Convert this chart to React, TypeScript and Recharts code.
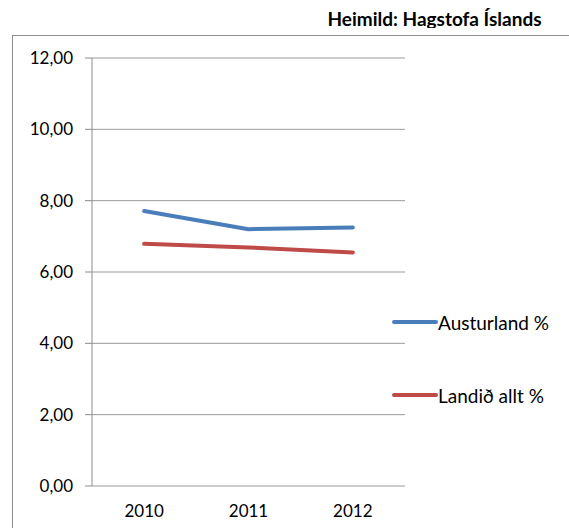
import React from 'react';
import { LineChart, Line, XAxis, YAxis, CartesianGrid } from 'recharts';

const categories = ['2010', '2011', '2012'];
const austurland = [7.71, 7.2, 7.25];
const landid = [6.79, 6.69, 6.55];
const yTicks = [0, 2, 4, 6, 8, 10, 12];
const seriesNames = ['Austurland %', 'Landið allt %'];
const seriesColors = ['#4A7EBB', '#BE4B48'];

const data = categories.map((c, i) => ({
  pos: i + 0.5,
  year: c,
  austurland: austurland[i],
  landid: landid[i],
}));

const boundaryTicks = categories.map((_, i) => i).concat([categories.length]);
const centerTicks = categories.map((_, i) => i + 0.5);

const FONT = 'Lato, "Open Sans", sans-serif';

const LegendBox = () => (
  <div style={{ position: 'absolute', left: 391, top: 312, fontFamily: FONT, fontSize: 19, color: '#000' }}>
    {seriesNames.map((n, i) => (
      <div key={n} style={{ display: 'flex', alignItems: 'center', height: 20, marginBottom: i === 0 ? 53 : 0 }}>
        <svg width={47} height={8} style={{ display: 'block' }}>
          <line x1={3} y1={4} x2={45} y2={4} stroke={seriesColors[i]} strokeWidth={4} strokeLinecap="round" />
        </svg>
        <span style={{ whiteSpace: 'nowrap' }}>{n}</span>
      </div>
    ))}
  </div>
);

export default function App() {
  return (
    <div style={{ position: 'fixed', left: 0, top: 0, width: 569, height: 528, overflow: 'hidden', background: '#fff' }}>
      <div
        style={{
          position: 'absolute', left: 12, top: 35, width: 620, height: 560,
          border: '1px solid #8c8c8c', boxSizing: 'border-box',
        }}
      />
      <div style={{ position: 'absolute', left: 300, top: 0, width: 269, height: 28, overflow: 'hidden' }}>
        <div
          style={{
            position: 'absolute', left: 0, width: 269, top: 8, textAlign: 'center',
            fontFamily: FONT, fontWeight: 'bold', fontSize: 19, lineHeight: '22px', color: '#000',
            paddingLeft: 0, paddingRight: 0, boxSizing: 'border-box',
          }}
        >
          Heimild: Hagstofa Íslands
        </div>
      </div>
      <div style={{ position: 'absolute', left: 0, top: 0 }}>
        <LineChart width={569} height={528} data={data} margin={{ top: 58, right: 164, bottom: 12, left: 12 }}>
          <CartesianGrid vertical={false} stroke="#9a9a9a" strokeWidth={1} />
          <XAxis
            xAxisId="b"
            dataKey="pos"
            type="number"
            domain={[0, categories.length]}
            ticks={boundaryTicks}
            tick={false}
            tickSize={6}
            stroke="#8c8c8c"
            height={0}
          />
          <XAxis
            xAxisId="l"
            dataKey="pos"
            type="number"
            domain={[0, categories.length]}
            ticks={centerTicks}
            tickFormatter={(v: number) => categories[Math.floor(v)]}
            axisLine={false}
            tickLine={false}
            tickSize={6}
            tickMargin={13}
            tick={{ fill: '#000', fontSize: 17, fontFamily: FONT }}
            height={30}
          />
          <YAxis
            domain={[0, 12]}
            ticks={yTicks}
            tickFormatter={(v: number) => v.toFixed(2).replace('.', ',')}
            width={80}
            tickSize={7}
            tickMargin={12}
            stroke="#8c8c8c"
            tick={{ fill: '#000', fontSize: 17, fontFamily: FONT }}
          />
          <Line xAxisId="b" dataKey="austurland" name={seriesNames[0]} stroke={seriesColors[0]} strokeWidth={4} strokeLinecap="round" strokeLinejoin="round" dot={false} isAnimationActive={false} />
          <Line xAxisId="b" dataKey="landid" name={seriesNames[1]} stroke={seriesColors[1]} strokeWidth={4} strokeLinecap="round" strokeLinejoin="round" dot={false} isAnimationActive={false} />
        </LineChart>
      </div>
      <LegendBox />
    </div>
  );
}
